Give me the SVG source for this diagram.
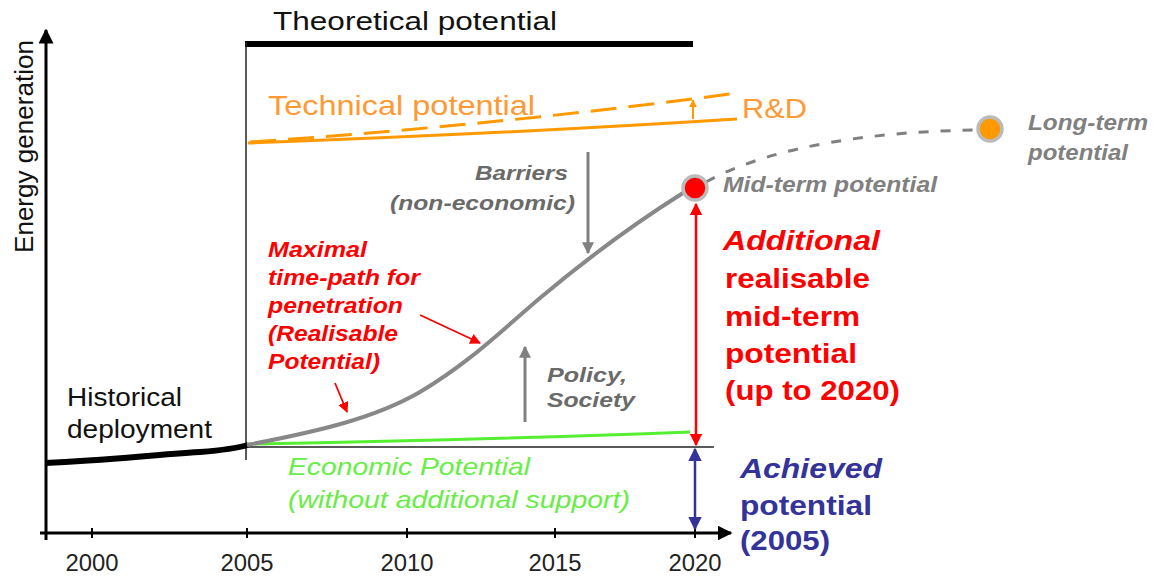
<svg xmlns="http://www.w3.org/2000/svg" width="1154" height="576" viewBox="0 0 1154 576">
  <style>
    text { font-family: "Liberation Sans", Arial, sans-serif; }
    .plain { font-size: 26px; fill: #111; }
    .tick { font-size: 23px; fill: #222; text-anchor: middle; }
    .orange { font-size: 28px; fill: #FF9933; }
    .gray { font-size: 21px; fill: #6a6a6a; font-weight: bold; font-style: italic; }
    .lgray { font-size: 22px; fill: #808080; font-weight: bold; font-style: italic; }
    .redlab { font-size: 22px; fill: #FF0000; font-weight: bold; font-style: italic; }
    .redbig { font-size: 28px; fill: #FF0000; font-weight: bold; }
    .bluebig { font-size: 28px; fill: #333399; font-weight: bold; }
    .green { font-size: 24px; fill: #66EE44; font-style: italic; }
    .ax { stroke: #000; stroke-width: 3; fill: none; }
    .thin { stroke: #222; stroke-width: 1.5; fill: none; }
  </style>
  <defs>
    <marker id="axHead" viewBox="0 0 10 10" refX="9" refY="5" markerWidth="5" markerHeight="5" markerUnits="strokeWidth" orient="auto">
      <path d="M0,0 L10,5 L0,10 z" fill="#000"/>
    </marker>
    <marker id="grayHead" viewBox="0 0 10 10" refX="9" refY="5" markerWidth="4" markerHeight="4" markerUnits="strokeWidth" orient="auto">
      <path d="M0,0 L10,5 L0,10 z" fill="#808080"/>
    </marker>
    <marker id="redHead" viewBox="0 0 10 10" refX="9" refY="5" markerWidth="5" markerHeight="5" markerUnits="strokeWidth" orient="auto-start-reverse">
      <path d="M0,0 L10,5 L0,10 z" fill="#FF0000"/>
    </marker>
    <marker id="redThin" viewBox="0 0 10 10" refX="9" refY="5" markerWidth="6" markerHeight="6" markerUnits="strokeWidth" orient="auto">
      <path d="M0,0 L10,5 L0,10 z" fill="#FF0000"/>
    </marker>
    <marker id="blueHead" viewBox="0 0 10 10" refX="9" refY="5" markerWidth="5.5" markerHeight="5.5" markerUnits="strokeWidth" orient="auto-start-reverse">
      <path d="M0,0 L10,5 L0,10 z" fill="#333399"/>
    </marker>
    <marker id="orangeHead" viewBox="0 0 10 10" refX="9" refY="5" markerWidth="4" markerHeight="4" markerUnits="strokeWidth" orient="auto">
      <path d="M0,0 L10,5 L0,10 z" fill="#FF9900"/>
    </marker>
  </defs>

  <rect width="1154" height="576" fill="#fff"/>

  <!-- axes -->
  <g id="axes">
    <line class="ax" x1="46" y1="540" x2="46" y2="30" marker-end="url(#axHead)"/>
    <line class="ax" x1="40" y1="533" x2="731" y2="533" marker-end="url(#axHead)"/>
    <g stroke="#000" stroke-width="2">
      <line x1="92" y1="528" x2="92" y2="538"/>
      <line x1="247" y1="528" x2="247" y2="538"/>
      <line x1="407" y1="528" x2="407" y2="538"/>
      <line x1="555" y1="528" x2="555" y2="538"/>
      <line x1="695" y1="528" x2="695" y2="538"/>
    </g>
    <text class="tick" x="92" y="571" textLength="53" lengthAdjust="spacingAndGlyphs">2000</text>
    <text class="tick" x="247" y="571" textLength="53" lengthAdjust="spacingAndGlyphs">2005</text>
    <text class="tick" x="407" y="571" textLength="53" lengthAdjust="spacingAndGlyphs">2010</text>
    <text class="tick" x="555" y="571" textLength="53" lengthAdjust="spacingAndGlyphs">2015</text>
    <text class="tick" x="695" y="571" textLength="53" lengthAdjust="spacingAndGlyphs">2020</text>
    <text class="plain" transform="translate(33,253) rotate(-90)" font-size="25" textLength="213" lengthAdjust="spacingAndGlyphs">Energy generation</text>
  </g>

  <!-- theoretical potential frame -->
  <g id="theoretical">
    <line x1="245" y1="44" x2="693" y2="44" stroke="#000" stroke-width="6"/>
    <line class="thin" x1="246" y1="42" x2="246" y2="460"/>
    <text class="plain" x="273" y="30" font-size="28" textLength="284" lengthAdjust="spacingAndGlyphs">Theoretical potential</text>
  </g>

  <!-- technical potential -->
  <g id="technical">
    <path d="M248,143 Q500,134 737,119" stroke="#FF9900" stroke-width="3" fill="none"/>
    <path d="M250,142 Q500,125 737,93" stroke="#FF9900" stroke-width="3" fill="none" stroke-dasharray="26,12"/>
    <text class="orange" x="268" y="115" textLength="267" lengthAdjust="spacingAndGlyphs">Technical potential</text>
    <text class="orange" x="742" y="118" textLength="65" lengthAdjust="spacingAndGlyphs">R&amp;D</text>
  </g>

  <!-- historical deployment -->
  <g id="historical">
    <path d="M45,463 C110,460 150,455 200,452 C225,450 238,448 248,445" stroke="#000" stroke-width="6" fill="none"/>
    <text class="plain" x="67" y="406" textLength="115" lengthAdjust="spacingAndGlyphs">Historical</text>
    <text class="plain" x="67" y="438" textLength="145" lengthAdjust="spacingAndGlyphs">deployment</text>
  </g>

  <!-- economic potential -->
  <g id="economic">
    <line class="thin" x1="247" y1="447" x2="714" y2="447"/>
    <path d="M247,444 Q480,440 690,432" stroke="#55EE33" stroke-width="3" fill="none"/>
    <text class="green" x="288" y="475" textLength="242" lengthAdjust="spacingAndGlyphs">Economic Potential</text>
    <text class="green" x="288" y="508" textLength="342" lengthAdjust="spacingAndGlyphs">(without additional support)</text>
  </g>

  <!-- realisable time path -->
  <g id="realisable-path">
    <path d="M247,445 C320,431 375,418 420,392 C470,362 500,332 540,298 C590,256 640,220 683,193" stroke="#888" stroke-width="4" fill="none"/>
  </g>

  <g id="connectors">
    <path d="M706,182 C760,152 850,132 975,130" stroke="#808080" stroke-width="3" fill="none" stroke-dasharray="10,12"/>
    <line x1="693" y1="119" x2="693" y2="100" stroke="#FF9900" stroke-width="2" marker-end="url(#orangeHead)"/>
    <line x1="588" y1="152" x2="588" y2="253" stroke="#808080" stroke-width="3" marker-end="url(#grayHead)"/>
    <line x1="525" y1="422" x2="525" y2="347" stroke="#808080" stroke-width="3" marker-end="url(#grayHead)"/>
    <line x1="420" y1="315" x2="480" y2="343" stroke="#FF0000" stroke-width="1.8" marker-end="url(#redThin)"/>
    <line x1="335" y1="383" x2="347" y2="412" stroke="#FF0000" stroke-width="1.8" marker-end="url(#redThin)"/>
    <line x1="696" y1="204" x2="696" y2="445" stroke="#FF0000" stroke-width="2.5" marker-start="url(#redHead)" marker-end="url(#redHead)"/>
    <line x1="695" y1="449" x2="695" y2="529" stroke="#333399" stroke-width="2.5" marker-start="url(#blueHead)" marker-end="url(#blueHead)"/>
  </g>

  <g id="mid-term">
    <circle cx="695" cy="188" r="12" fill="#FF0000" stroke="#BBBBBB" stroke-width="3.5"/>
    <text class="lgray" x="723" y="192" textLength="214" lengthAdjust="spacingAndGlyphs">Mid-term potential</text>
  </g>

  <g id="long-term">
    <circle cx="990" cy="129" r="12" fill="#FF9900" stroke="#BBBBBB" stroke-width="3.5"/>
    <text class="lgray" x="1028" y="130" font-size="21" textLength="120" lengthAdjust="spacingAndGlyphs">Long-term</text>
    <text class="lgray" x="1028" y="160" font-size="21" textLength="100" lengthAdjust="spacingAndGlyphs">potential</text>
  </g>

  <g id="barriers">
    <text class="gray" x="475" y="180" textLength="93" lengthAdjust="spacingAndGlyphs">Barriers</text>
    <text class="gray" x="390" y="210" textLength="185" lengthAdjust="spacingAndGlyphs">(non-economic)</text>
  </g>

  <g id="policy">
    <text class="gray" x="547" y="382" textLength="80" lengthAdjust="spacingAndGlyphs">Policy,</text>
    <text class="gray" x="547" y="407" textLength="88" lengthAdjust="spacingAndGlyphs">Society</text>
  </g>

  <g id="maximal-path">
    <text class="redlab" x="268" y="257" textLength="99" lengthAdjust="spacingAndGlyphs">Maximal</text>
    <text class="redlab" x="268" y="285" textLength="152" lengthAdjust="spacingAndGlyphs">time-path for</text>
    <text class="redlab" x="268" y="313" textLength="135" lengthAdjust="spacingAndGlyphs">penetration</text>
    <text class="redlab" x="268" y="341" textLength="130" lengthAdjust="spacingAndGlyphs">(Realisable</text>
    <text class="redlab" x="268" y="369" textLength="112" lengthAdjust="spacingAndGlyphs">Potential)</text>
  </g>

  <g id="additional">
    <text class="redbig" x="723" y="250" font-style="italic" textLength="157" lengthAdjust="spacingAndGlyphs">Additional</text>
    <text class="redbig" x="725" y="288" textLength="145" lengthAdjust="spacingAndGlyphs">realisable</text>
    <text class="redbig" x="725" y="326" textLength="135" lengthAdjust="spacingAndGlyphs">mid-term</text>
    <text class="redbig" x="725" y="363" textLength="132" lengthAdjust="spacingAndGlyphs">potential</text>
    <text class="redbig" x="725" y="400" textLength="175" lengthAdjust="spacingAndGlyphs">(up to 2020)</text>
  </g>

  <g id="achieved">
    <text class="bluebig" x="740" y="478" font-style="italic" textLength="142" lengthAdjust="spacingAndGlyphs">Achieved</text>
    <text class="bluebig" x="740" y="515" textLength="132" lengthAdjust="spacingAndGlyphs">potential</text>
    <text class="bluebig" x="740" y="550" textLength="90" lengthAdjust="spacingAndGlyphs">(2005)</text>
  </g>
</svg>
